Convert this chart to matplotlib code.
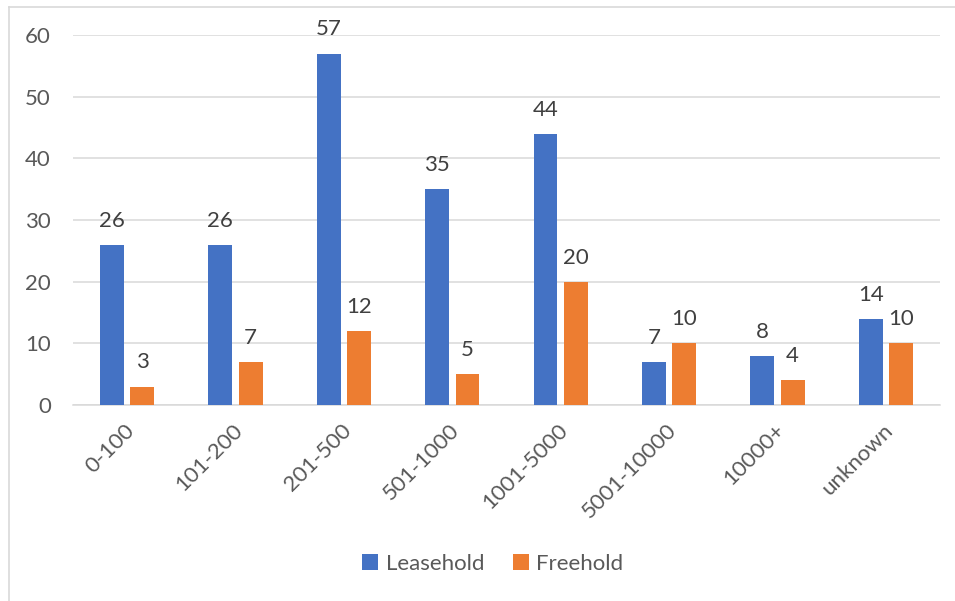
import matplotlib
matplotlib.use("Agg")
import matplotlib.pyplot as plt
from matplotlib.lines import Line2D
from matplotlib.patches import Patch
from matplotlib.transforms import ScaledTranslation
import numpy as np

categories = ["0-100", "101-200", "201-500", "501-1000", "1001-5000",
              "5001-10000", "10000+", "unknown"]
leasehold = [26, 26, 57, 35, 44, 7, 8, 14]
freehold = [3, 7, 12, 5, 20, 10, 4, 10]
series_names = ["Leasehold", "Freehold"]
y_ticks = [0, 10, 20, 30, 40, 50, 60]

BLUE = "#4472C4"
ORANGE = "#ED7D31"
GRID = "#D9D9D9"
TICK_TXT = "#595959"
LABEL_TXT = "#404040"
FS = 16

plt.rcParams["font.family"] = ["Lato", "DejaVu Sans"]

W, H = 955, 601
fig = plt.figure(figsize=(W / 100, H / 100), dpi=100)

ax = fig.add_axes([73 / W, 1 - 405 / H, (940 - 73) / W, (405 - 35) / H])

x = np.arange(len(categories))
bw = 0.22
off = 0.14
bars_l = ax.bar(x - off, leasehold, width=bw, color=BLUE, zorder=3)
bars_f = ax.bar(x + off, freehold, width=bw, color=ORANGE, zorder=3)

for bars, vals in ((bars_l, leasehold), (bars_f, freehold)):
    for b, v in zip(bars, vals):
        ax.annotate(str(v), (b.get_x() + b.get_width() / 2, v),
                    xytext=(0, 13), textcoords="offset points",
                    ha="center", va="baseline", fontsize=FS,
                    color=LABEL_TXT, zorder=4)

ax.set_xlim(-0.5, len(categories) - 0.5)
ax.set_ylim(0, 60)
ax.set_yticks(y_ticks)
ax.set_yticklabels([str(t) for t in y_ticks])
ax.yaxis.grid(True, color=GRID, linewidth=1.1, zorder=0)
ax.set_axisbelow(True)
for s in ("top", "right", "left"):
    ax.spines[s].set_visible(False)
ax.spines["bottom"].set_color(GRID)
ax.spines["bottom"].set_linewidth(1.1)
ax.tick_params(axis="both", length=0, labelsize=FS, labelcolor=TICK_TXT)
ax.tick_params(axis="y", pad=16)

ax.set_xticks(x)
ax.set_xticklabels(categories, rotation=45, ha="right", va="center",
                   rotation_mode="anchor")
ax.tick_params(axis="x", pad=16)
shift = ScaledTranslation(4 / 100, 0, fig.dpi_scale_trans)
for lbl in ax.get_xticklabels():
    lbl.set_transform(lbl.get_transform() + shift)

handles = [Patch(facecolor=BLUE), Patch(facecolor=ORANGE)]
fig.legend(handles, series_names, loc="center", bbox_to_anchor=(493 / W, 1 - 564 / H),
           ncol=2, frameon=False, fontsize=FS, labelcolor=TICK_TXT,
           handlelength=0.7, handleheight=0.7, handletextpad=0.35,
           columnspacing=1.3)

# Chart-area border (top and left edges)
fig.add_artist(Line2D([8.5 / W, 1], [1 - 6.5 / H, 1 - 6.5 / H], color=GRID, lw=1.2))
fig.add_artist(Line2D([8.5 / W, 8.5 / W], [0, 1 - 6.5 / H], color=GRID, lw=1.2))

fig.savefig("out.png", dpi=100)
